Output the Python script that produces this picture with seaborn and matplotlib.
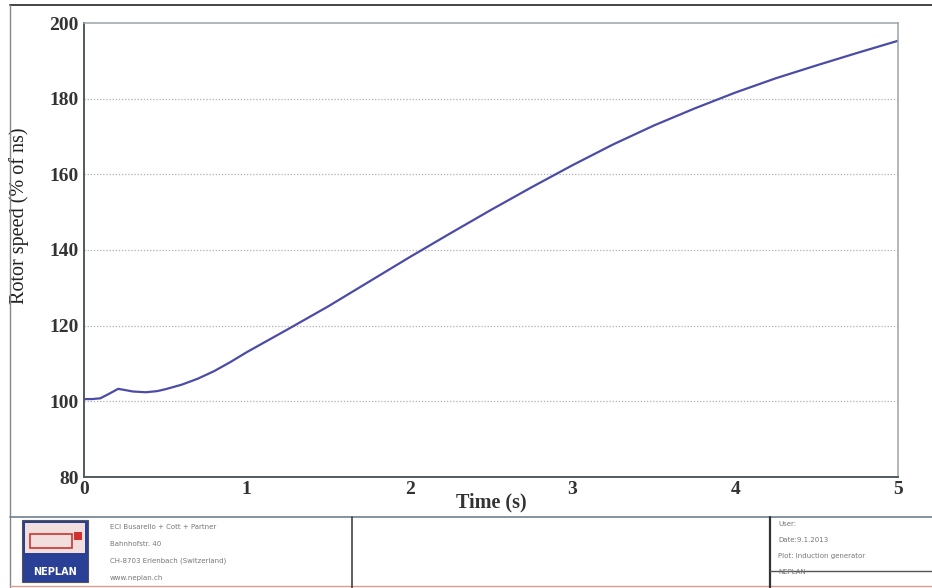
import matplotlib

matplotlib.use("Agg")
import matplotlib.pyplot as plt
import pandas as pd
import seaborn as sns
from matplotlib.patches import Rectangle

# Valeurs (vitesse rotor en % de ns)
time_s = [0.0, 0.05, 0.10, 0.15, 0.21, 0.25, 0.30, 0.38, 0.45, 0.50, 0.60, 0.70,
          0.80, 0.90, 1.00, 1.25, 1.50, 1.75, 2.00, 2.25, 2.50, 2.75, 3.00,
          3.25, 3.50, 3.75, 4.00, 4.25, 4.50, 4.75, 5.00]
rotor_speed = [100.6, 100.6, 100.8, 101.9, 103.3, 103.0, 102.6, 102.4, 102.7, 103.2,
               104.4, 106.0, 108.0, 110.4, 113.0, 119.0, 125.1, 131.6, 138.1, 144.4,
               150.6, 156.6, 162.4, 167.9, 172.9, 177.4, 181.6, 185.4, 188.8, 192.1,
               195.3]
x_ticks = [0, 1, 2, 3, 4, 5]
y_ticks = [80, 100, 120, 140, 160, 180, 200]

footer_left = ["ECI Busarello + Cott + Partner", "Bahnhofstr. 40",
               "CH-8703 Erlenbach (Switzerland)", "www.neplan.ch"]
footer_right = ["User:", "Date:9.1.2013", "Plot: Induction generator", "NEPLAN"]

LINE_COLOR = "#4c4ca8"


def main() -> None:
    sns.set_style("white")
    plt.rcParams["font.family"] = ["Liberation Serif", "DejaVu Serif"]

    df = pd.DataFrame({"t": time_s, "speed": rotor_speed})

    fig = plt.figure(figsize=(9.32, 5.88), dpi=100)
    ax = fig.add_axes([84 / 932, 1 - 477 / 588, (898 - 84) / 932, (477 - 23) / 588])

    sns.lineplot(data=df, x="t", y="speed", ax=ax, color=LINE_COLOR, linewidth=1.6)

    ax.set_xlim(0, 5)
    ax.set_ylim(80, 200)
    ax.set_xticks(x_ticks)
    ax.set_yticks(y_ticks)
    ax.tick_params(axis="both", labelsize=14, length=0, pad=4)
    ax.tick_params(axis="x", pad=3)
    for lbl in ax.get_xticklabels() + ax.get_yticklabels():
        lbl.set_fontweight("bold")
        lbl.set_color("#333333")
    ax.set_xlabel("Time (s)", fontsize=14.5, fontweight="bold", color="#333333", labelpad=-4)
    ax.set_ylabel("Rotor speed (% of ns)", fontsize=14.5, color="#222222")
    ax.yaxis.set_label_coords(-0.068, 0.575)

    for y in y_ticks[1:-1]:
        ax.axhline(y, color="#b0b0b0", linestyle=(0, (1, 1.5)), linewidth=0.9, zorder=0)

    for side in ("left", "bottom"):
        ax.spines[side].set_color("#505a60")
        ax.spines[side].set_linewidth(1.4)
    for side in ("top", "right"):
        ax.spines[side].set_color("#9aa4aa")
        ax.spines[side].set_linewidth(1.1)

    # cadre exterieur et cartouche NEPLAN (coordonnees pixel -> figure)
    def px(x, y):
        return x / 932, 1 - y / 588

    def hline(y, x0, x1, color="#666666", lw=1.0):
        fig.add_artist(plt.Line2D([x0 / 932, x1 / 932], [1 - y / 588] * 2,
                                  color=color, linewidth=lw))

    def vline(x, y0, y1, color="#666666", lw=1.0):
        fig.add_artist(plt.Line2D([x / 932] * 2, [1 - y0 / 588, 1 - y1 / 588],
                                  color=color, linewidth=lw))

    hline(5, 10, 932, color="#444444", lw=1.4)
    vline(10, 5, 588, color="#888888", lw=1.0)
    hline(517, 10, 932, color="#708090", lw=1.2)
    hline(586, 10, 932, color="#d8a090", lw=1.0)
    vline(352, 517, 588, color="#444444", lw=1.2)
    vline(770, 517, 588, color="#333333", lw=1.6)
    hline(571, 770, 932, color="#555555", lw=1.0)

    # logo
    x0, y0 = px(22, 582)
    fig.add_artist(Rectangle((x0, y0), 66 / 932, 62 / 588, transform=fig.transFigure,
                             facecolor="#2a3f96", edgecolor="#555555", linewidth=0.8))
    x0, y0 = px(25, 553)
    fig.add_artist(Rectangle((x0, y0), 60 / 932, 30 / 588, transform=fig.transFigure,
                             facecolor="#f3dede", edgecolor="none"))
    x0, y0 = px(30, 548)
    fig.add_artist(Rectangle((x0, y0), 42 / 932, 14 / 588, transform=fig.transFigure,
                             facecolor="none", edgecolor="#cc3333", linewidth=1.2))
    x0, y0 = px(74, 540)
    fig.add_artist(Rectangle((x0, y0), 8 / 932, 8 / 588, transform=fig.transFigure,
                             facecolor="#d03030", edgecolor="none"))
    fig.text(*px(55, 572), "NEPLAN", ha="center", va="center", fontsize=7,
             color="white", fontweight="bold", family=["DejaVu Sans"])

    for i, line in enumerate(footer_left):
        fig.text(*px(110, 527 + i * 17), line, ha="left", va="center", fontsize=5,
                 color="#777777", family=["DejaVu Sans"])
    for i, line in enumerate(footer_right):
        fig.text(*px(778, 524 + i * 16), line, ha="left", va="center", fontsize=5,
                 color="#777777", family=["DejaVu Sans"])

    fig.savefig("out.png", dpi=100)
    plt.close(fig)


if __name__ == "__main__":
    main()
